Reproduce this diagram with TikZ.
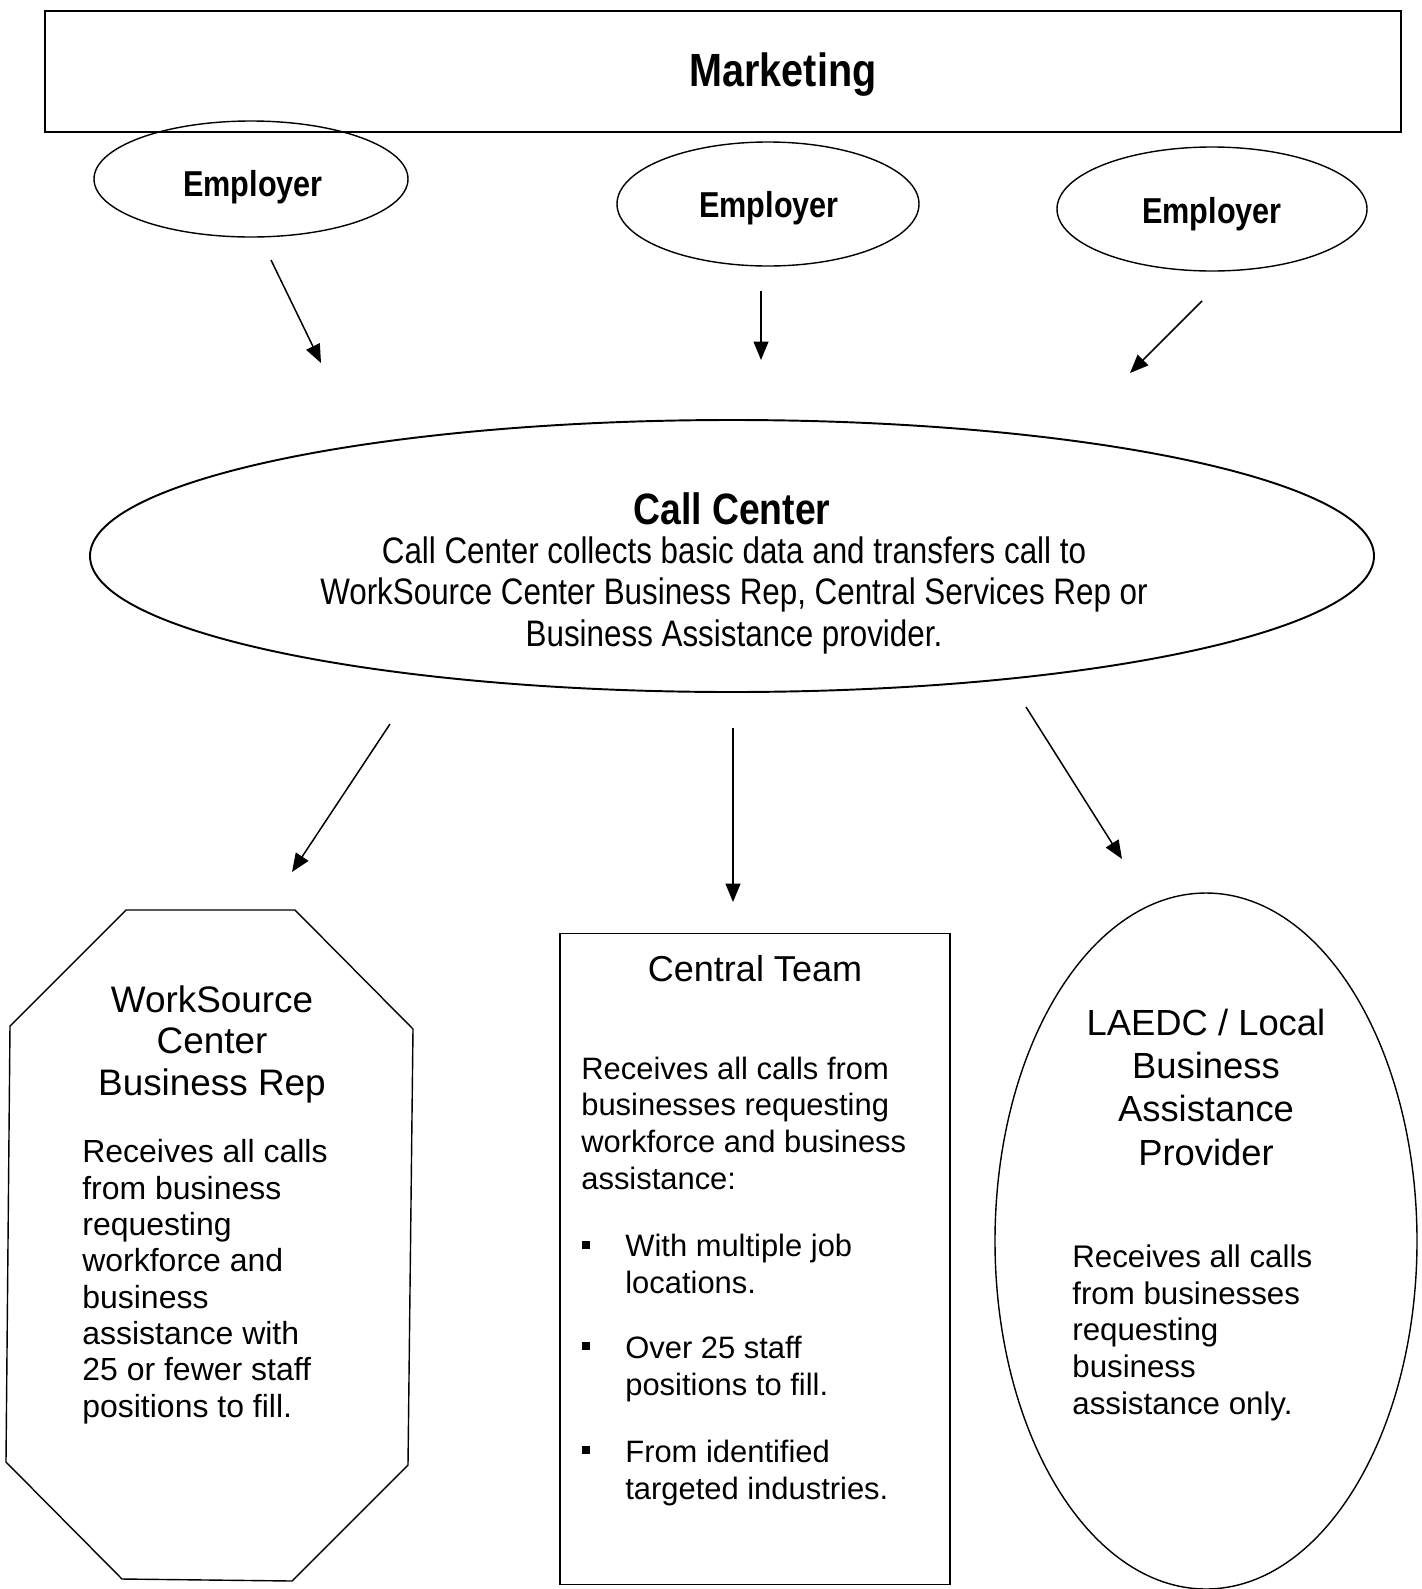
\documentclass[tikz,border=0pt]{standalone}
\usepackage{fontspec}
\setmainfont{Liberation Sans}
\newfontfamily\narrowfont[FakeStretch=0.85]{Liberation Sans}
\usetikzlibrary{arrows.meta,shapes.geometric}
\def\pu{0.02cm}
\begin{document}
\begin{tikzpicture}[x=0.02cm,y=-0.02cm,
  outline/.style={draw=black,line width=0.8pt},
  thickoutline/.style={draw=black,line width=1.1pt},
  oval/.style={ellipse,outline,inner sep=0pt},
  arr/.style={-{Triangle[length=10.5pt,width=8.5pt]},line width=0.85pt},
  txt/.style={inner sep=0pt,anchor=base},
  ltxt/.style={inner sep=0pt,anchor=base west,align=left},
  ctxt/.style={inner sep=0pt,anchor=base,align=center},
  bullet/.style={fill=black,inner sep=0pt,minimum size=8*\pu}]
\useasboundingbox (0,0) rectangle (1421,1589);

% Marketing
\node[thickoutline,inner sep=0pt,minimum width=1356*\pu,minimum height=121*\pu] (mkt) at (723,71.5) {};
\node[txt,font=\narrowfont\bfseries\fontsize{26.5}{30}\selectfont] (mkttxt) at (783,86) {Marketing};

% Employers
\node[oval,minimum width=314*\pu,minimum height=116*\pu] (emp1) at (251,179) {};
\node[oval,minimum width=302*\pu,minimum height=124*\pu] (emp2) at (768,204) {};
\node[oval,minimum width=310*\pu,minimum height=124*\pu] (emp3) at (1212,209) {};
\node[txt,font=\narrowfont\bfseries\fontsize{20.5}{24}\selectfont] (emp1t) at (253,196) {Employer};
\node[txt,font=\narrowfont\bfseries\fontsize{20.5}{24}\selectfont] (emp2t) at (769,217) {Employer};
\node[txt,font=\narrowfont\bfseries\fontsize{20.5}{24}\selectfont] (emp3t) at (1212,223) {Employer};

% arrows employers -> call center
\coordinate (a1s) at (271,260); \coordinate (a1e) at (321,363);
\coordinate (a2s) at (761,291); \coordinate (a2e) at (761,360);
\coordinate (a3s) at (1202,301); \coordinate (a3e) at (1130,373);
\draw[arr] (a1s) -- (a1e);
\draw[arr] (a2s) -- (a2e);
\draw[arr] (a3s) -- (a3e);

% Call center
\node[oval,thickoutline,minimum width=1284*\pu,minimum height=272*\pu] (cc) at (732,556) {};
\node[txt,font=\narrowfont\bfseries\fontsize{25}{28}\selectfont] (cct) at (732,524) {Call Center};
\node[ctxt,font=\narrowfont\fontsize{21}{23.6}\selectfont] (ccb) at (734,646)
  {Call Center collects basic data and transfers call to\\
   WorkSource Center Business Rep, Central Services Rep or\\
   Business Assistance provider.};

% arrows call center -> targets
\coordinate (b1s) at (390,724); \coordinate (b1e) at (292,872);
\coordinate (b2s) at (733,728); \coordinate (b2e) at (733,902);
\coordinate (b3s) at (1026,707); \coordinate (b3e) at (1122,859);
\draw[arr] (b1s) -- (b1e);
\draw[arr] (b2s) -- (b2e);
\draw[arr] (b3s) -- (b3e);

% Octagon
\coordinate (o1) at (126,910); \coordinate (o2) at (295,910);
\coordinate (o3) at (413,1029); \coordinate (o4) at (408,1465);
\coordinate (o5) at (292,1581); \coordinate (o6) at (122,1579);
\coordinate (o7) at (6,1462); \coordinate (o8) at (10,1026);
\draw[outline] (o1) -- (o2) -- (o3) -- (o4) -- (o5) -- (o6) -- (o7) -- (o8) -- cycle;
\node[ctxt,font=\fontsize{21}{23.6}\selectfont] (wst) at (212,1095)
  {WorkSource\\Center\\Business Rep};
\node[ltxt,font=\fontsize{18.2}{20.66}\selectfont] (wsb) at (82,1417)
  {Receives all calls\\from business\\requesting\\workforce and\\business\\assistance with\\25 or fewer staff\\positions to fill.};

% Central team
\node[outline,inner sep=0pt,minimum width=390*\pu,minimum height=651*\pu] (ct) at (755,1259) {};
\node[txt,font=\fontsize{20.5}{24}\selectfont] (ctt) at (755,981) {Central Team};
\node[ltxt,font=\fontsize{17.6}{20.8}\selectfont] (ctb) at (581,1189)
  {Receives all calls from\\businesses requesting\\workforce and business\\assistance:};
\node[bullet] (bu1) at (586,1245) {};
\node[bullet] (bu2) at (586,1346) {};
\node[bullet] (bu3) at (586,1450) {};
\node[ltxt,font=\fontsize{17.6}{20.8}\selectfont] (ct1) at (625,1293) {With multiple job\\locations.};
\node[ltxt,font=\fontsize{17.6}{20.8}\selectfont] (ct2) at (625,1395) {Over 25 staff\\positions to fill.};
\node[ltxt,font=\fontsize{17.6}{20.8}\selectfont] (ct3) at (625,1499) {From identified\\targeted industries.};

% LAEDC
\node[oval,minimum width=422*\pu,minimum height=696*\pu] (la) at (1206,1241) {};
\node[ctxt,font=\fontsize{20.7}{24.5}\selectfont] (lat) at (1206,1165)
  {LAEDC / Local\\Business\\Assistance\\Provider};
\node[ltxt,font=\fontsize{17.8}{20.8}\selectfont] (lab) at (1072,1414)
  {Receives all calls\\from businesses\\requesting\\business\\assistance only.};
\end{tikzpicture}
\end{document}
